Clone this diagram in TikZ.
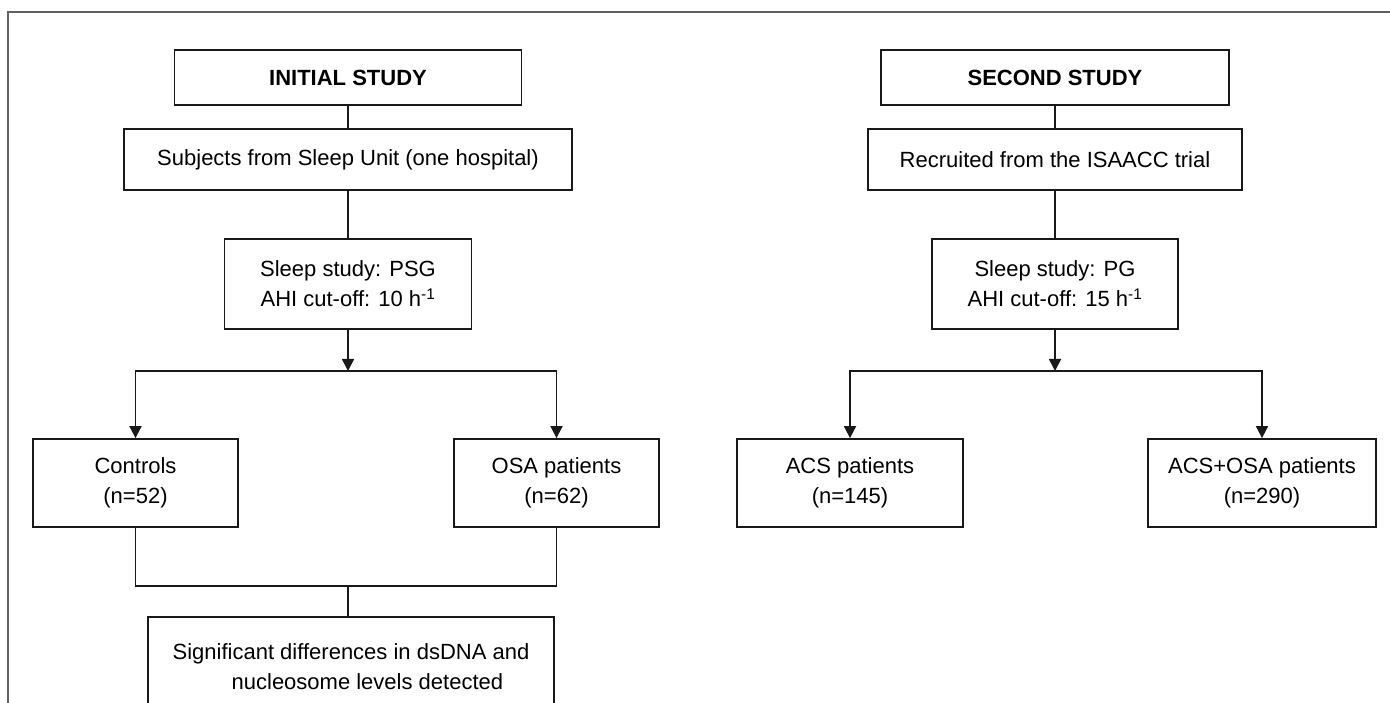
\documentclass[tikz,border=0pt]{standalone}
\usepackage{fontspec}
\setmainfont{Liberation Sans}
\usetikzlibrary{arrows.meta}
\begin{document}
\begin{tikzpicture}[x=1pt,y=-1pt,
  box/.style={draw=black!90, line width=1.8pt, inner sep=0pt, align=center, font=\fontsize{22}{30}\selectfont},
  conn/.style={draw=black!90, line width=1.8pt},
  arr/.style={conn, -{Triangle[width=12pt,length=12pt]}},
  frame/.style={draw=black!62, line width=2pt}
]
\useasboundingbox (0,0) rectangle (1390,703);
\clip (0,0) rectangle (1390,703);
\draw[frame] (8,708) -- (8,12) -- (1395,12);

% left study
\node[box, minimum width=347pt, minimum height=55pt] (init) at (348,77.5) {\textbf{INITIAL STUDY}};
\node[box, minimum width=448pt, minimum height=61pt] (subj) at (348,159.5) {Subjects from Sleep Unit (one hospital)};
\node[box, minimum width=247pt, minimum height=90pt] (psg) at (348,284) {Sleep study: PSG\\AHI cut-off: 10 h\textsuperscript{-1}};
\node[box, minimum width=205pt, minimum height=88pt] (ctrl) at (135.5,483) {Controls\\(n=52)};
\node[box, minimum width=205pt, minimum height=88pt] (osa) at (556.5,483) {OSA patients\\(n=62)};
\node[box, minimum width=406pt, minimum height=100pt, align=left] (sig) at (351,667) {Significant differences in dsDNA and\\\hspace*{59pt}nucleosome levels detected};

\coordinate (bl) at (348,371);
\coordinate (jl) at (348,586);
\draw[conn] (init.south) -- (init.south |- subj.north);
\draw[conn] (subj.south) -- (subj.south |- psg.north);
\draw[arr] (psg.south) -- (bl);
\draw[arr] (bl) -| (ctrl.north);
\draw[arr] (bl) -| (osa.north);
\draw[conn] (ctrl.south) |- (jl) -| (osa.south);
\draw[conn] (jl) -- (jl |- sig.north);

% right study
\node[box, minimum width=348pt, minimum height=55pt] (second) at (1055,77.5) {\textbf{SECOND STUDY}};
\node[box, minimum width=374pt, minimum height=61pt] (recr) at (1055,159.5) {Recruited from the ISAACC trial};
\node[box, minimum width=246pt, minimum height=90pt] (pg) at (1055,284) {Sleep study: PG\\AHI cut-off: 15 h\textsuperscript{-1}};
\node[box, minimum width=226pt, minimum height=88pt] (acs) at (850,483) {ACS patients\\(n=145)};
\node[box, minimum width=228pt, minimum height=88pt] (acsosa) at (1262,483) {ACS+OSA patients\\(n=290)};

\coordinate (br) at (1055,371);
\draw[conn] (second.south) -- (second.south |- recr.north);
\draw[conn] (recr.south) -- (recr.south |- pg.north);
\draw[arr] (pg.south) -- (br);
\draw[arr] (br) -| (acs.north);
\draw[arr] (br) -| (acsosa.north);
\end{tikzpicture}
\end{document}
